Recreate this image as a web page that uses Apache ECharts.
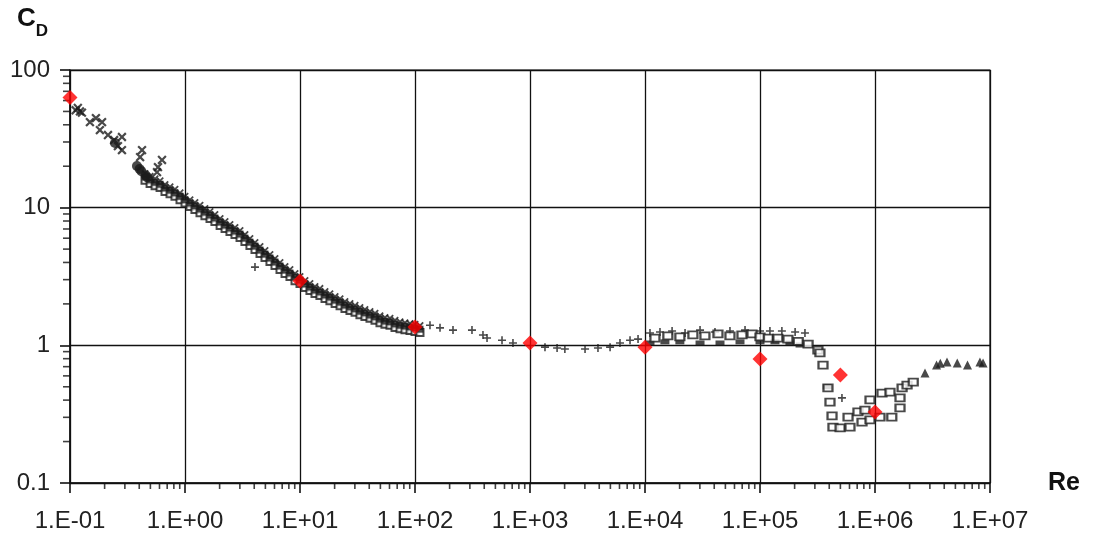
<!DOCTYPE html>
<html>
<head>
<meta charset="utf-8">
<script src="https://cdn.jsdelivr.net/npm/echarts@6/dist/echarts.min.js"></script>
<style>html,body{margin:0;padding:0;background:#fff;}#chart{width:1095px;height:535px;}</style>
</head>
<body>
<div id="chart"></div>
<script>
// ---- Data (Re, Cd) ----
const xTickValues = [0.1, 1, 10, 100, 1000, 10000, 100000, 1000000, 10000000];
const yTickValues = [0.1, 1, 10, 100];
const minorMultipliers = [2, 3, 4, 5, 6, 7, 8, 9];

// red diamonds
const redRe = [0.1, 10, 100, 1000, 10000, 100000, 500000, 1000000];
const redCd = [63, 2.93, 1.36, 1.04, 0.97, 0.795, 0.61, 0.328];

// crosses at low Re
const crossRe = [0.117, 0.127, 0.149, 0.168, 0.190, 0.182, 0.214, 0.242, 0.283, 0.261, 0.283, 0.423, 0.407, 0.631, 0.582, 0.571, 0.112, 0.122];
const crossCd = [53, 49, 41.8, 44.7, 41.8, 36.6, 33.7, 31, 32.6, 28, 26.2, 26.2, 23.3, 22.2, 19.7, 18.1, 51, 50];

// dark blobs
const blobRe = [0.246, 0.382, 0.403, 0.418, 0.455, 0.47];
const blobCd = [29.5, 20.1, 19.1, 18.4, 17.2, 16.6];

// dense band
const bandRe = [0.449,0.497,0.549,0.607,0.670,0.741,0.818,0.905,1.0,1.105,1.22,1.35,1.49,1.65,1.82,2.02,2.23,2.46,2.72,3.01,3.32,3.67,4.06,4.49,4.96,5.48,6.06,6.70,7.41,8.18,9.05,10,11.05,12.2,13.5,14.9,16.5,18.2,20.2,22.3,24.6,27.2,30.1,33.2,36.7,40.6,44.9,49.6,54.8,60.6,67,74.1,81.8,90.5,100,110.5];
const bandCdUpper = [17.7,16.9,16.2,15.7,14.7,14.2,13.6,12.8,12.1,11.4,10.9,10.4,9.84,9.37,8.91,8.33,7.92,7.54,7.17,6.82,6.37,5.96,5.58,5.22,4.88,4.57,4.27,4.00,3.73,3.55,3.32,3.16,2.96,2.81,2.67,2.59,2.46,2.37,2.26,2.18,2.08,2.01,1.95,1.88,1.82,1.76,1.71,1.64,1.59,1.57,1.52,1.48,1.46,1.44,1.42,1.39];
const bandCdCenter = [16.7,15.9,15.3,14.8,13.9,13.4,12.8,12.1,11.4,10.8,10.3,9.77,9.28,8.84,8.41,7.86,7.47,7.11,6.76,6.43,6.01,5.62,5.26,4.92,4.60,4.31,4.03,3.77,3.52,3.35,3.13,2.98,2.79,2.65,2.52,2.44,2.32,2.24,2.13,2.06,1.96,1.90,1.84,1.77,1.72,1.66,1.61,1.55,1.50,1.48,1.43,1.40,1.38,1.36,1.34,1.31];
const bandCdLower = [15.8,15.0,14.4,14.0,13.1,12.6,12.1,11.4,10.8,10.2,9.7,9.2,8.75,8.34,7.93,7.42,7.05,6.71,6.38,6.07,5.67,5.30,4.96,4.64,4.34,4.07,3.80,3.56,3.32,3.16,2.95,2.81,2.63,2.50,2.38,2.30,2.19,2.11,2.01,1.94,1.85,1.79,1.74,1.67,1.62,1.57,1.52,1.46,1.42,1.40,1.35,1.32,1.30,1.28,1.26,1.24];

// sparse pluses (intermediate Re)
const midRe = [4.06, 135, 165, 214, 313, 390, 423, 571, 711, 1350, 1720, 2010, 3010, 3900, 4970, 6060, 7410, 8700];
const midCd = [3.70, 1.40, 1.34, 1.29, 1.29, 1.19, 1.13, 1.09, 1.04, 0.97, 0.956, 0.94, 0.94, 0.956, 0.97, 1.04, 1.09, 1.11];

// plateau pluses
const platPlusRe = [11050, 13500, 17200, 22300, 30100, 40600, 54800, 74100, 100000, 122000, 155000, 202000, 246000, 516000];
const platPlusCd = [1.23, 1.25, 1.27, 1.23, 1.29, 1.25, 1.27, 1.29, 1.27, 1.27, 1.27, 1.25, 1.23, 0.415];

// hollow squares (plateau, drag crisis, recovery)
const sqRe = [12200,15800,20100,26100,33200,43100,54800,69700,85200,100000,118000,143000,175000,215000,262000,319000,332000,353000,390000,406000,423000,431000,497000,606000,583000,711000,771000,905000,905000,1105000,1150000,1350000,1400000,1650000,1650000,1720000,1900000,2150000,818000];
const sqCd = [1.13,1.17,1.15,1.19,1.17,1.21,1.17,1.19,1.21,1.15,1.13,1.13,1.11,1.07,1.02,0.924,0.88,0.719,0.49,0.387,0.307,0.255,0.251,0.255,0.301,0.328,0.277,0.287,0.401,0.301,0.45,0.458,0.301,0.351,0.415,0.49,0.515,0.541,0.339];

// filled dark line under the plateau
const lowRe = [11050, 14900, 20100, 30100, 44900, 67000, 100000, 135000, 182000, 223000, 385000];
const lowCd = [1.04, 1.06, 1.06, 1.04, 1.04, 1.06, 1.06, 1.06, 1.04, 1.005, 0.5];

// triangles at high Re
const triRe = [2720000, 3430000, 3700000, 4230000, 5190000, 6370000, 8180000, 8700000];
const triCd = [0.629, 0.719, 0.74, 0.756, 0.744, 0.719, 0.756, 0.744];

// ---- build ----
const zip = (a, b) => a.map((v, i) => [v, b[i]]);
const FONT = 'Liberation Sans, Arial, sans-serif';
const INK = '#1c1c1c';
const PLUS = 'path://M4,0h2v4h4v2h-4v4h-2v-4h-4v-2h4z';
const X_MIN = xTickValues[0], X_MAX = xTickValues[xTickValues.length - 1];
const Y_MIN = yTickValues[0], Y_MAX = yTickValues[yTickValues.length - 1];

// minor tick marks (2..9 within each decade), drawn as tiny marks at the axes
const minorXData = [];
xTickValues.slice(0, -1).forEach(d => minorMultipliers.forEach(m => minorXData.push([m * d, Y_MIN])));
const minorYData = [];
yTickValues.slice(0, -1).forEach(d => minorMultipliers.forEach(m => minorYData.push([X_MIN, m * d])));

const chart = echarts.init(document.getElementById('chart'));
chart.setOption({
  animation: false,
  backgroundColor: '#fff',
  title: {
    text: '{c|C}{d|D}', left: 17, top: 6, padding: 0,
    textStyle: {
      rich: {
        c: { fontSize: 26, fontWeight: 'bold', fontFamily: FONT, color: '#111', lineHeight: 30, verticalAlign: 'top' },
        d: { fontSize: 17, fontWeight: 'bold', fontFamily: FONT, color: '#111', lineHeight: 50, verticalAlign: 'middle' }
      }
    }
  },
  grid: { left: 70, right: 105, top: 70, bottom: 52, show: true, borderColor: '#111', borderWidth: 1.2, containLabel: false },
  xAxis: {
    type: 'log', logBase: 10, min: X_MIN, max: X_MAX, interval: 1,
    name: 'Re', nameLocation: 'end', nameGap: 58,
    nameTextStyle: { fontSize: 25, fontWeight: 'bold', fontFamily: FONT, color: '#111' },
    axisLine: { show: true, onZero: false, lineStyle: { color: '#111', width: 1.5 } },
    axisTick: { show: true, inside: false, length: 10, lineStyle: { color: '#111', width: 1.6 } },
    splitLine: { show: true, lineStyle: { color: '#111', width: 1.3 } },
    axisLabel: {
      fontSize: 24, fontFamily: FONT, color: '#222', margin: 26,
      formatter: v => { const e = Math.round(Math.log10(v)); return '1.E' + (e < 0 ? '-' : '+') + String(Math.abs(e)).padStart(2, '0'); }
    }
  },
  yAxis: {
    type: 'log', logBase: 10, min: Y_MIN, max: Y_MAX, interval: 1,
    axisLine: { show: true, onZero: false, lineStyle: { color: '#111', width: 1.5 } },
    axisTick: { show: true, inside: false, length: 10, lineStyle: { color: '#111', width: 1.6 } },
    splitLine: { show: true, lineStyle: { color: '#111', width: 1.3 } },
    axisLabel: {
      fontSize: 24, fontFamily: FONT, color: '#222', margin: 20,
      formatter: v => (v >= 1 ? String(Math.round(v)) : String(+v.toPrecision(1)))
    }
  },
  series: [
    { type: 'scatter', silent: true, clip: false, data: minorXData, symbol: 'rect', symbolSize: [1.6, 6], symbolOffset: [0, 3], itemStyle: { color: '#111' }, z: 1 },
    { type: 'scatter', silent: true, clip: false, data: minorYData, symbol: 'rect', symbolSize: [7, 1.6], symbolOffset: [-3.5, 0], itemStyle: { color: '#111' }, z: 1 },
    { type: 'scatter', data: zip(bandRe, bandCdLower), symbol: 'emptyRect', symbolSize: 7, itemStyle: { color: INK, borderWidth: 1.8 }, z: 3 },
    { type: 'scatter', data: zip(bandRe, bandCdCenter), symbol: 'rect', symbolSize: 7, itemStyle: { color: INK }, z: 3 },
    { type: 'scatter', data: zip(bandRe, bandCdUpper), symbol: PLUS, symbolRotate: 45, symbolSize: 9, itemStyle: { color: INK }, z: 3 },
    { type: 'scatter', data: zip(crossRe, crossCd), symbol: PLUS, symbolRotate: 45, symbolSize: 11, itemStyle: { color: INK }, z: 3 },
    { type: 'scatter', data: zip(blobRe, blobCd), symbol: 'circle', symbolSize: 10, itemStyle: { color: INK }, z: 3 },
    { type: 'scatter', data: zip(midRe, midCd), symbol: PLUS, symbolSize: 8, itemStyle: { color: INK }, z: 3 },
    { type: 'scatter', data: zip(platPlusRe, platPlusCd), symbol: PLUS, symbolSize: 8, itemStyle: { color: INK }, z: 3 },
    { type: 'scatter', data: zip(lowRe, lowCd), symbol: 'rect', symbolSize: [9, 5], itemStyle: { color: INK }, z: 3 },
    { type: 'scatter', data: zip(sqRe, sqCd), symbol: 'emptyRect', symbolSize: [9, 7], itemStyle: { color: INK, borderWidth: 1.8 }, z: 3 },
    { type: 'scatter', data: zip(triRe, triCd), symbol: 'triangle', symbolSize: 9, itemStyle: { color: INK }, z: 3 },
    { type: 'scatter', data: zip(redRe, redCd), symbol: 'diamond', symbolSize: 15, itemStyle: { color: '#ff0000' }, z: 5 }
  ]
});
</script>
</body>
</html>
